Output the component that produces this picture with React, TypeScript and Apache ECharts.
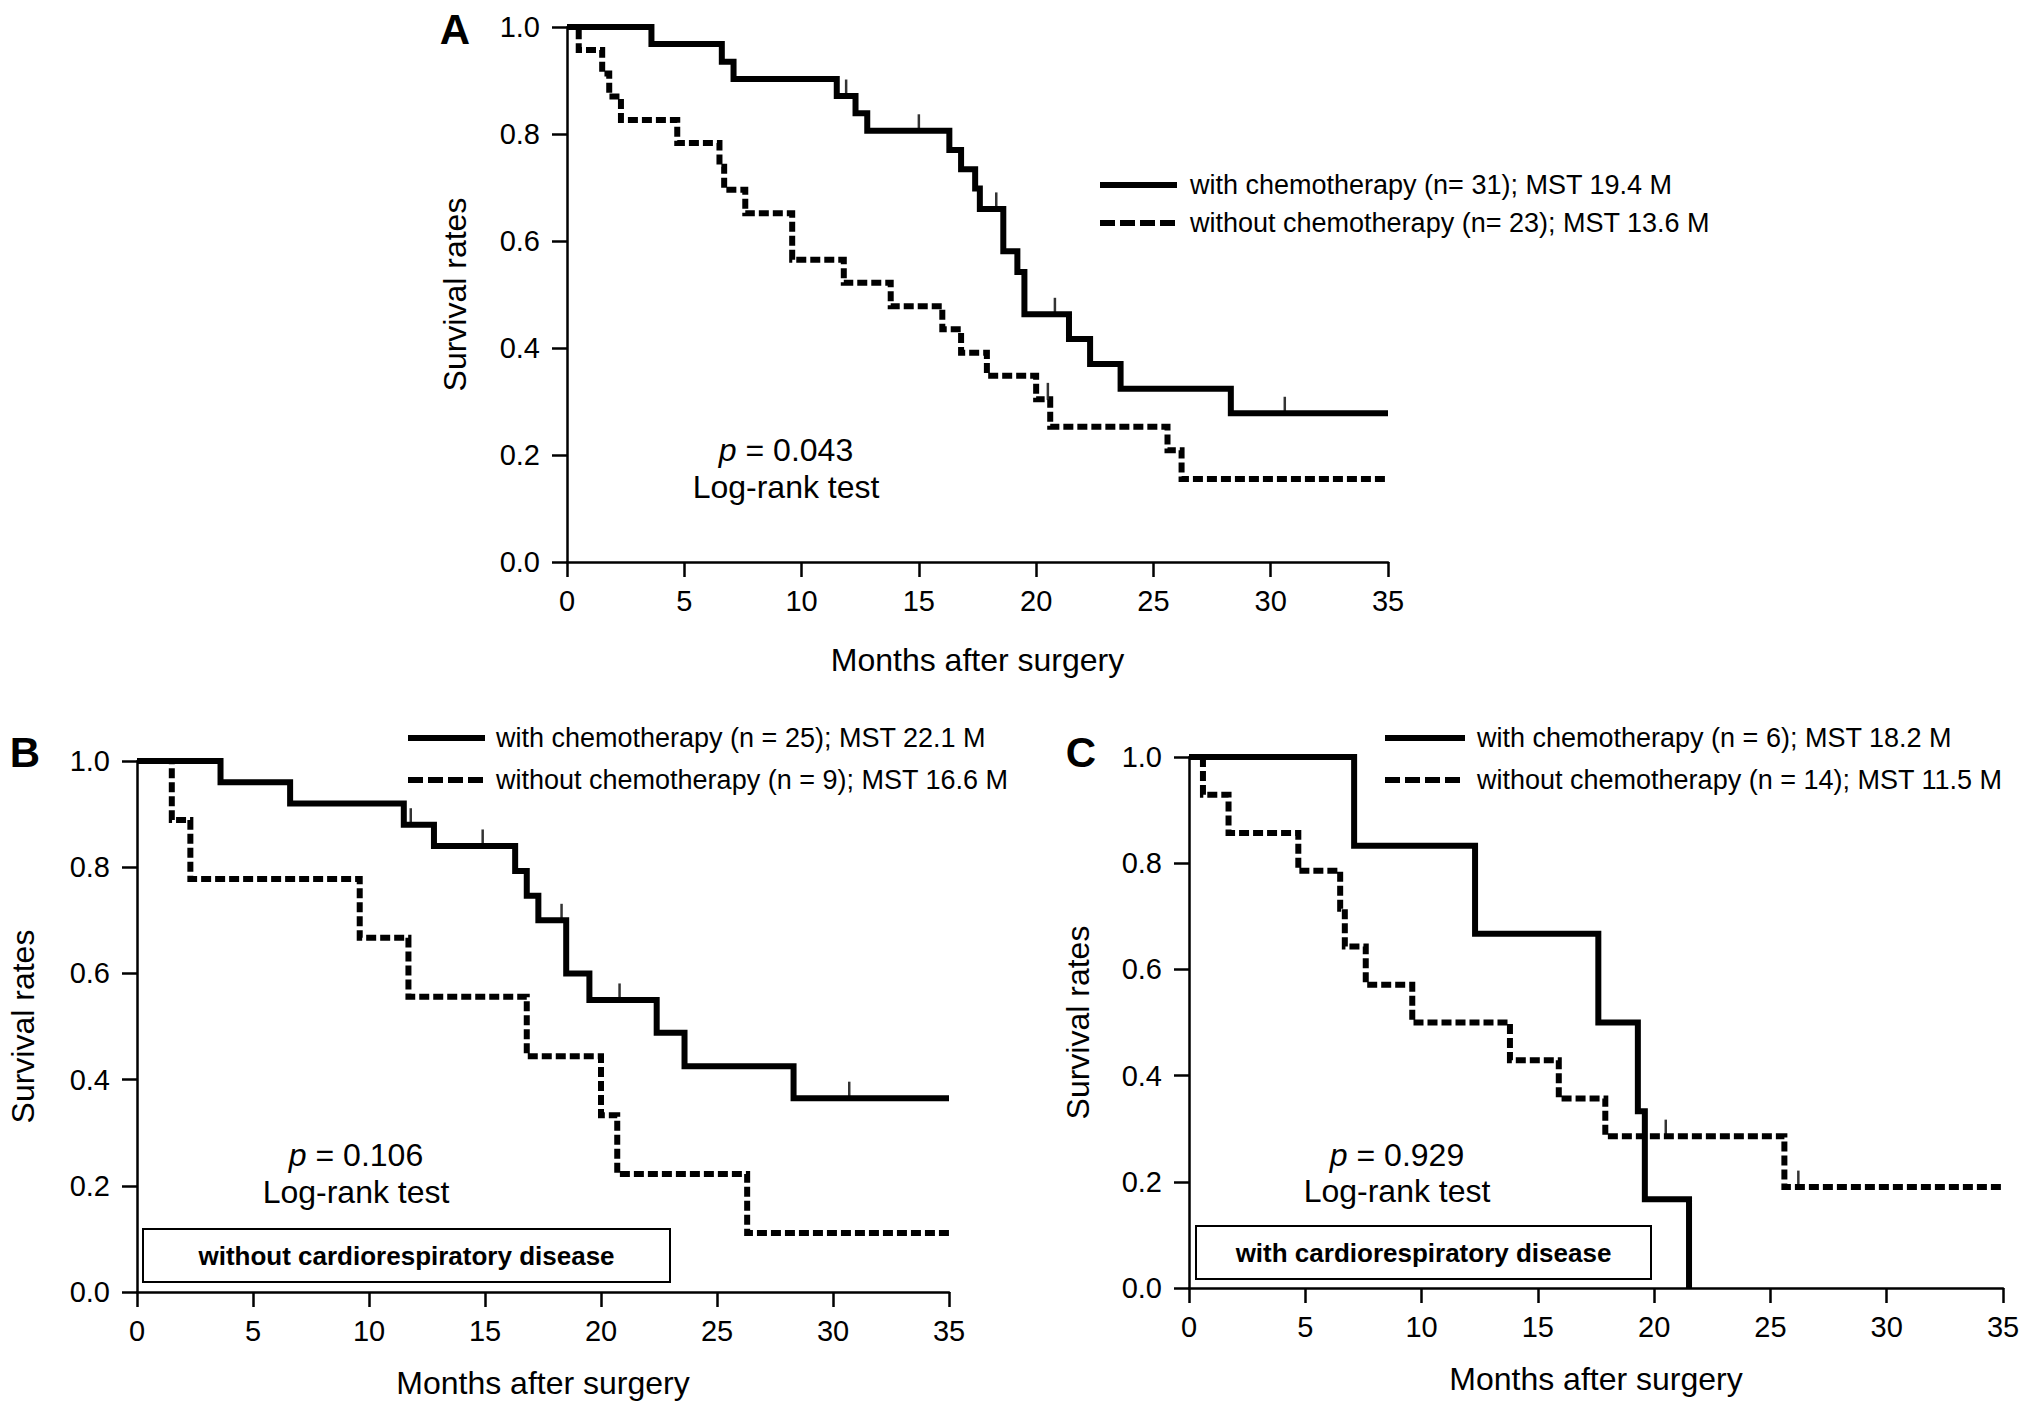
import { useEffect, useRef } from 'react';
import * as echarts from 'echarts';

const FONT = "'Liberation Sans', Arial, Helvetica, sans-serif";

const xTicks = [0, 5, 10, 15, 20, 25, 30, 35];
const yTicks = [0, 0.2, 0.4, 0.6, 0.8, 1.0];

// Panel A (all patients)
const aWithTimes = [3.6, 6.6, 7.1, 11.5, 12.3, 12.8, 16.3, 16.8, 17.4, 17.6, 18.6, 19.2, 19.5, 21.4, 22.3, 23.6, 28.3];
const aWithSurv = [0.968, 0.935, 0.903, 0.871, 0.839, 0.806, 0.77, 0.734, 0.698, 0.66, 0.581, 0.542, 0.463, 0.417, 0.37, 0.324, 0.278];
const aWithCensored = [11.9, 15.0, 18.3, 20.8, 30.6];
const aWithoutTimes = [0.5, 1.5, 1.8, 2.3, 4.7, 6.5, 6.7, 7.6, 9.6, 11.8, 13.8, 16.0, 16.8, 17.9, 20.0, 20.6, 25.6, 26.2];
const aWithoutSurv = [0.957, 0.913, 0.87, 0.826, 0.783, 0.739, 0.696, 0.652, 0.565, 0.522, 0.478, 0.435, 0.391, 0.348, 0.304, 0.253, 0.209, 0.155];
const aWithoutCensored = [20.5];
const aLegend = ['with chemotherapy (n= 31); MST 19.4 M', 'without chemotherapy (n= 23); MST 13.6 M'];
const aPValue = '0.043';

// Panel B (without cardiorespiratory disease)
const bWithTimes = [3.6, 6.6, 11.5, 12.8, 16.3, 16.8, 17.3, 18.5, 19.5, 22.4, 23.6, 28.3];
const bWithSurv = [0.96, 0.92, 0.88, 0.84, 0.793, 0.746, 0.7, 0.6, 0.55, 0.488, 0.425, 0.365];
const bWithCensored = [11.8, 14.9, 18.3, 20.8, 30.7];
const bWithoutTimes = [1.5, 2.3, 9.6, 11.7, 16.8, 20.0, 20.7, 26.3];
const bWithoutSurv = [0.889, 0.778, 0.667, 0.556, 0.444, 0.333, 0.222, 0.111];
const bWithoutCensored: number[] = [];
const bLegend = ['with chemotherapy (n = 25); MST 22.1 M', 'without chemotherapy (n = 9); MST 16.6 M'];
const bPValue = '0.106';
const bBoxLabel = 'without cardiorespiratory disease';

// Panel C (with cardiorespiratory disease)
const cWithTimes = [7.1, 12.3, 17.6, 19.3, 19.6, 21.5];
const cWithSurv = [0.833, 0.667, 0.5, 0.333, 0.167, 0];
const cWithCensored: number[] = [];
const cWithoutTimes = [0.6, 1.7, 4.7, 6.5, 6.7, 7.6, 9.6, 13.8, 15.9, 17.9, 25.6];
const cWithoutSurv = [0.929, 0.857, 0.786, 0.714, 0.643, 0.571, 0.5, 0.429, 0.357, 0.286, 0.19];
const cWithoutCensored = [20.5, 26.2];
const cLegend = ['with chemotherapy (n = 6); MST 18.2 M', 'without chemotherapy (n = 14); MST 11.5 M'];
const cPValue = '0.929';
const cBoxLabel = 'with cardiorespiratory disease';

const FOLLOW_UP_END = 35;

function steps(times: number[], surv: number[], endAt: number) {
  const pts: number[][] = [[0, 1]];
  times.forEach((t, i) => pts.push([t, surv[i]]));
  if (endAt > times[times.length - 1]) pts.push([endAt, surv[surv.length - 1]]);
  return pts;
}

function survAt(times: number[], surv: number[], t: number) {
  return times.reduce((s, tt, i) => (tt <= t ? surv[i] : s), 1);
}

const panels = [
  {
    letter: 'A', letterPos: [455, 29],
    grid: { left: 567, top: 27, width: 821, height: 535 },
    xNameGap: 82, yNameGap: 96,
    withC: [aWithTimes, aWithSurv, aWithCensored, FOLLOW_UP_END],
    withoutC: [aWithoutTimes, aWithoutSurv, aWithoutCensored, FOLLOW_UP_END],
    legend: aLegend, legendLine: [1100, 1177], legendY: [185, 223], legendText: 1190,
    p: aPValue, pPos: [786, 450, 487],
    box: null as null | { label: string; rect: number[] },
  },
  {
    letter: 'B', letterPos: [25, 752],
    grid: { left: 137, top: 761, width: 812, height: 531 },
    xNameGap: 75, yNameGap: 98,
    withC: [bWithTimes, bWithSurv, bWithCensored, FOLLOW_UP_END],
    withoutC: [bWithoutTimes, bWithoutSurv, bWithoutCensored, FOLLOW_UP_END],
    legend: bLegend, legendLine: [408, 485], legendY: [738, 780], legendText: 496,
    p: bPValue, pPos: [356, 1155, 1192],
    box: { label: bBoxLabel, rect: [143, 1229, 527, 53] },
  },
  {
    letter: 'C', letterPos: [1081, 752],
    grid: { left: 1189, top: 757, width: 814, height: 531 },
    xNameGap: 75, yNameGap: 95,
    withC: [cWithTimes, cWithSurv, cWithCensored, 0],
    withoutC: [cWithoutTimes, cWithoutSurv, cWithoutCensored, FOLLOW_UP_END],
    legend: cLegend, legendLine: [1385, 1465], legendY: [738, 780], legendText: 1477,
    p: cPValue, pPos: [1397, 1155, 1191],
    box: { label: cBoxLabel, rect: [1196, 1226, 455, 53] },
  },
];

const axisLineStyle = { color: '#000', width: 2.5 };
const labelStyle = { color: '#000', fontSize: 29, fontFamily: FONT };
const nameStyle = { color: '#000', fontSize: 32, fontFamily: FONT };

export default function App() {
  const chartRef = useRef<HTMLDivElement>(null);

  useEffect(() => {
    if (!chartRef.current) return;
    const chart = echarts.init(chartRef.current, undefined, { renderer: 'svg' });

    const series: any[] = [];
    const graphic: any[] = [];

    panels.forEach((p, i) => {
      const groups = [
        { name: p.legend[0], def: p.withC, dash: 'solid' as any },
        { name: p.legend[1], def: p.withoutC, dash: [10, 4] },
      ];
      groups.forEach((g) => {
        const [times, surv, censored, endAt] = g.def as [number[], number[], number[], number];
        series.push({
          type: 'line',
          name: g.name,
          xAxisIndex: i,
          yAxisIndex: i,
          step: 'end',
          symbol: 'none',
          silent: true,
          data: steps(times, surv, endAt),
          lineStyle: { color: '#000', width: 6, type: g.dash, join: 'miter', cap: 'butt' },
          z: 3,
        });
        if (censored.length) {
          series.push({
            type: 'scatter',
            name: g.name + ' censored',
            xAxisIndex: i,
            yAxisIndex: i,
            symbol: 'rect',
            symbolSize: [2.5, 17],
            symbolOffset: [0, -8],
            silent: true,
            itemStyle: { color: '#000' },
            data: censored.map((t) => [t, survAt(times, surv, t)]),
            z: 4,
          });
        }
      });

      // panel letter
      graphic.push({
        type: 'text',
        x: p.letterPos[0],
        y: p.letterPos[1],
        style: {
          text: p.letter, fontSize: 42, fontWeight: 'bold', fontFamily: FONT, fill: '#000',
          align: 'center', verticalAlign: 'middle', textAlign: 'center', textVerticalAlign: 'middle',
        },
      });

      // legend
      p.legend.forEach((label, k) => {
        graphic.push({
          type: 'line',
          shape: { x1: p.legendLine[0], y1: p.legendY[k], x2: p.legendLine[1], y2: p.legendY[k] },
          style: { stroke: '#000', lineWidth: 6, lineDash: k === 0 ? null : [15, 5] },
        });
        graphic.push({
          type: 'text',
          x: p.legendText,
          y: p.legendY[k],
          style: {
            text: label, fontSize: 27, fontFamily: FONT, fill: '#000',
            align: 'left', verticalAlign: 'middle', textAlign: 'left', textVerticalAlign: 'middle',
          },
        });
      });

      // log-rank annotation
      graphic.push({
        type: 'text',
        x: p.pPos[0],
        y: p.pPos[1],
        style: {
          text: '{i|p} = ' + p.p,
          fontSize: 32, fontFamily: FONT, fill: '#000',
          align: 'center', verticalAlign: 'middle', textAlign: 'center', textVerticalAlign: 'middle',
          rich: { i: { fontStyle: 'italic', fontSize: 32, fontFamily: FONT, fill: '#000' } },
        },
      });
      graphic.push({
        type: 'text',
        x: p.pPos[0],
        y: p.pPos[2],
        style: {
          text: 'Log-rank test', fontSize: 32, fontFamily: FONT, fill: '#000',
          align: 'center', verticalAlign: 'middle', textAlign: 'center', textVerticalAlign: 'middle',
        },
      });

      if (p.box) {
        const [bx, by, bw, bh] = p.box.rect;
        graphic.push({
          type: 'rect',
          shape: { x: bx, y: by, width: bw, height: bh },
          style: { fill: '#fff', stroke: '#000', lineWidth: 2 },
        });
        graphic.push({
          type: 'text',
          x: bx + bw / 2,
          y: by + bh / 2,
          style: {
            text: p.box.label, fontSize: 26, fontWeight: 'bold', fontFamily: FONT, fill: '#000',
            align: 'center', verticalAlign: 'middle', textAlign: 'center', textVerticalAlign: 'middle',
          },
        });
      }
    });

    const option: echarts.EChartsOption = {
      animation: false,
      backgroundColor: '#fff',
      textStyle: { fontFamily: FONT },
      grid: panels.map((p) => ({ ...p.grid, containLabel: false })),
      xAxis: panels.map((p, i) => ({
        type: 'value',
        gridIndex: i,
        min: 0,
        max: 35,
        interval: 5,
        name: 'Months after surgery',
        nameLocation: 'middle',
        nameGap: p.xNameGap,
        nameTextStyle: nameStyle,
        axisLine: { show: true, onZero: false, lineStyle: axisLineStyle },
        axisTick: { show: true, length: 15, lineStyle: axisLineStyle, customValues: xTicks },
        axisLabel: { ...labelStyle, margin: 24, customValues: xTicks },
        splitLine: { show: false },
      })) as any,
      yAxis: panels.map((p, i) => ({
        type: 'value',
        gridIndex: i,
        min: 0,
        max: 1,
        interval: 0.2,
        name: 'Survival rates',
        nameLocation: 'middle',
        nameGap: p.yNameGap,
        nameRotate: 90,
        nameTextStyle: nameStyle,
        axisLine: { show: true, onZero: false, lineStyle: axisLineStyle },
        axisTick: { show: true, length: 15, lineStyle: axisLineStyle, customValues: yTicks },
        axisLabel: {
          ...labelStyle,
          margin: 27,
          customValues: yTicks,
          formatter: (v: number) => v.toFixed(1),
        },
        splitLine: { show: false },
      })) as any,
      series,
      graphic,
    };

    chart.setOption(option);

    return () => {
      chart.dispose();
    };
  }, []);

  return (
    <div
      ref={chartRef}
      style={{ position: 'fixed', left: 0, top: 0, width: 2031, height: 1415, background: '#fff' }}
    />
  );
}
